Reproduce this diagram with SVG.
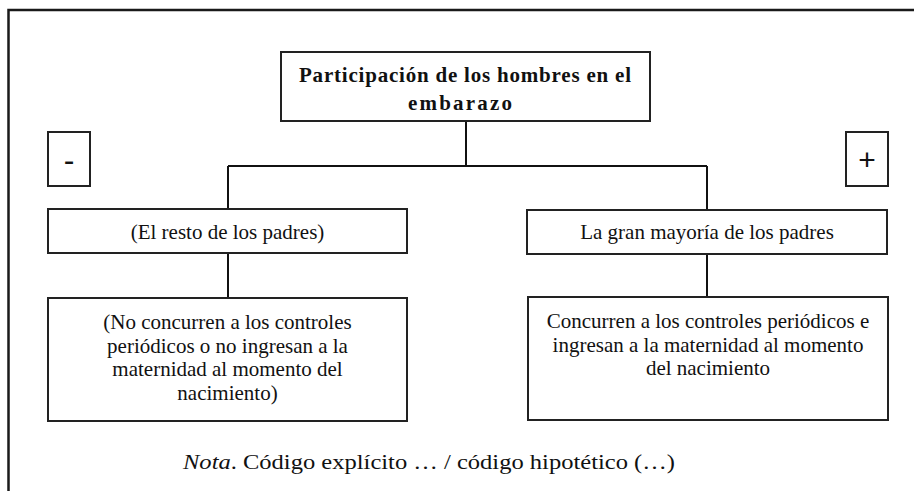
<svg xmlns="http://www.w3.org/2000/svg" width="914" height="491" viewBox="0 0 914 491">
<style>
.box{fill:#fff;stroke:#222;stroke-width:2}
.con{fill:none;stroke:#111;stroke-width:2}
.t{font-family:"Liberation Serif","Times New Roman",serif;font-size:21px;fill:#111;text-anchor:middle}
.b{font-family:"Liberation Serif","Times New Roman",serif;font-size:21px;font-weight:bold;fill:#111}
.s{font-family:"Liberation Sans",Arial,sans-serif;fill:#111;text-anchor:middle}
</style>
<rect width="914" height="491" fill="#fff"/>
<path d="M8.5 495 V10 H920" fill="none" stroke="#1a1a1a" stroke-width="2.5"/>
<g id="connectors">
<path class="con" d="M466 121 V166 M228 166 H707 M228 166 V209 M707 166 V210 M228 253 V298 M707 254 V297"/>
</g>
<g id="title">
<rect class="box" x="281" y="52" width="369" height="69"/>
<text class="b" x="299" y="82" textLength="332" lengthAdjust="spacing">Participación de los hombres en el</text>
<text class="b" x="408" y="110" textLength="104" lengthAdjust="spacing">embarazo</text>
</g>
<g id="minus">
<rect class="box" x="48" y="132" width="42" height="54"/>
<text class="s" x="69" y="171" font-size="32">-</text>
</g>
<g id="plus">
<rect class="box" x="846" y="132" width="42" height="54"/>
<text class="s" x="867" y="170" font-size="30">+</text>
</g>
<g id="resto">
<rect class="box" x="48" y="209" width="359" height="44"/>
<text class="t" x="227.5" y="239">(El resto de los padres)</text>
</g>
<g id="mayoria">
<rect class="box" x="527" y="210" width="360" height="44"/>
<text class="t" x="707" y="239">La gran mayoría de los padres</text>
</g>
<g id="no-concurren">
<rect class="box" x="48" y="298" width="359" height="123"/>
<text class="t" x="227.5" y="329">(No concurren a los controles</text>
<text class="t" x="227.5" y="353">periódicos o no ingresan a la</text>
<text class="t" x="227.5" y="376">maternidad al momento del</text>
<text class="t" x="227.5" y="400">nacimiento)</text>
</g>
<g id="concurren">
<rect class="box" x="528" y="297" width="360" height="123"/>
<text class="t" x="708" y="328">Concurren a los controles periódicos e</text>
<text class="t" x="708" y="352">ingresan a la maternidad al momento</text>
<text class="t" x="708" y="375">del nacimiento</text>
</g>
<g id="nota">
<text class="t" x="429" y="469" font-size="22" textLength="492" lengthAdjust="spacingAndGlyphs"><tspan font-style="italic">Nota</tspan>. Código explícito … / código hipotético (…)</text>
</g>
</svg>
